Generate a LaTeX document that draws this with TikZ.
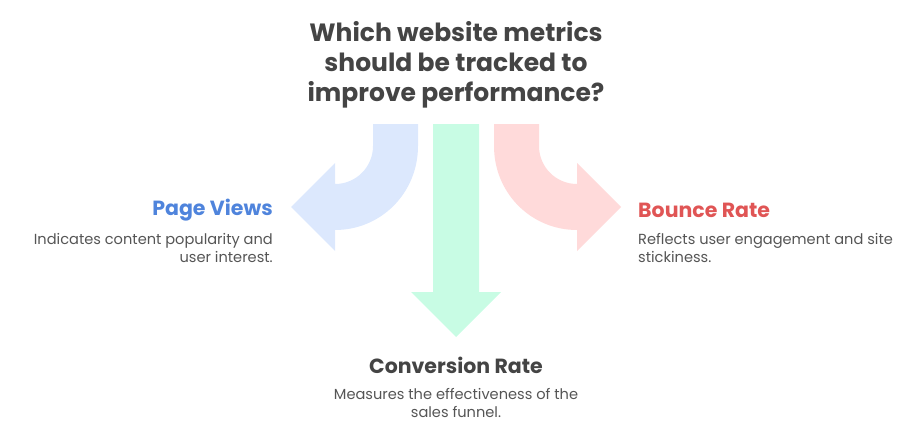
\documentclass[tikz,border=0pt]{standalone}
\usepackage{fontspec}
\setmainfont{Poppins}
\definecolor{titlegray}{HTML}{444444}
\definecolor{descgray}{HTML}{555555}
\definecolor{pvblue}{HTML}{4F84DC}
\definecolor{brred}{HTML}{E05555}
\definecolor{bluefill}{HTML}{DCE8FD}
\definecolor{greenfill}{HTML}{C8FCE4}
\definecolor{redfill}{HTML}{FFDADA}
\tikzset{
  titletext/.style={inner sep=0pt, text=titlegray, align=center, font=\fontsize{25}{30}\selectfont\bfseries},
  headtext/.style={inner sep=0pt, font=\fontsize{20.5}{24}\selectfont\bfseries},
  desctext/.style={inner sep=0pt, text=descgray, font=\fontsize{14.6}{18}\selectfont}
}
\begin{document}
\begin{tikzpicture}[x=1pt,y=-1pt]
\useasboundingbox (0,0) rectangle (924,431);
% arrows
\fill[bluefill] (418,124) -- (373,124) -- (373,146) .. controls (373,167) and (356,184) .. (335,184) -- (335,163) -- (291,207) -- (335,251) -- (335,230) .. controls (381,230) and (418,193) .. (418,146) -- cycle;
\fill[redfill] (494,124) -- (539,124) -- (539,146) .. controls (539,167) and (556,184) .. (577,184) -- (577,163) -- (621,207) -- (577,251) -- (577,230) .. controls (531,230) and (494,193) .. (494,146) -- cycle;
\fill[greenfill] (433,124) -- (479,124) -- (479,292) -- (501,292) -- (456,337) -- (411,292) -- (433,292) -- cycle;
% texts
\node[titletext] (title) at (456,65) {Which website metrics\\should be tracked to\\improve performance?};
\node[headtext, text=pvblue, anchor=east] (pv) at (273,210) {Page Views};
\node[desctext, anchor=north east, align=right] (pvd) at (273,233) {Indicates content popularity and\\user interest.};
\node[headtext, text=brred, anchor=west] (br) at (638,210) {Bounce Rate};
\node[desctext, anchor=north west, align=left] (brd) at (638,233) {Reflects user engagement and site\\stickiness.};
\node[headtext, text=titlegray] (cr) at (456,365) {Conversion Rate};
\node[desctext, align=center, anchor=north] (crd) at (456,388) {Measures the effectiveness of the\\sales funnel.};
\end{tikzpicture}
\end{document}
